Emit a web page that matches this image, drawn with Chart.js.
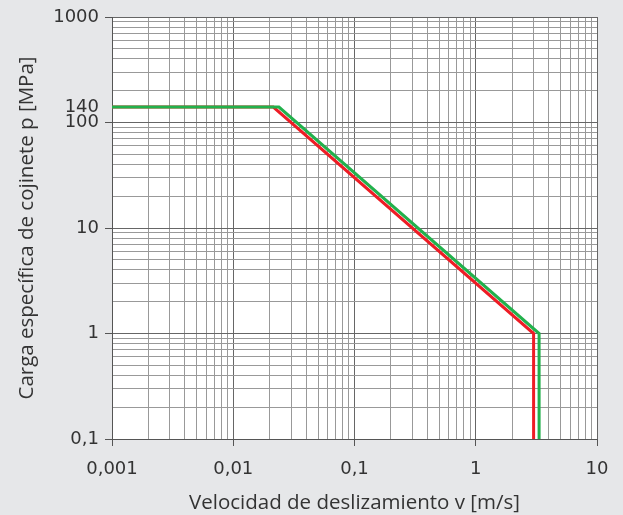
<!DOCTYPE html>
<html>
<head>
<meta charset="utf-8">
<script src="https://cdn.jsdelivr.net/npm/chart.js@4"></script>
<style>
  html, body { margin: 0; padding: 0; background: #e6e7e9; }
  #wrap { width: 623px; height: 515px; }
</style>
</head>
<body>
<div id="wrap"><canvas id="pvChart"></canvas></div>
<script>
// limit curves (v in m/s, p in MPa)
const redV = [0.001, 0.0214, 3.0, 3.0];
const redP = [140, 140, 1, 0.1];
const greenV = [0.001, 0.0238, 3.33, 3.33];
const greenP = [140, 140, 1, 0.1];

// tick labels
const xMajor = [0.001, 0.01, 0.1, 1, 10];
const xLabels = ['0,001', '0,01', '0,1', '1', '10'];
const yMajor = [0.1, 1, 10, 100, 1000];
const yLabels = ['0,1', '1', '10', '100', '1000'];
const yExtra = [140];
const yExtraLabels = ['140'];

function logGrid(majors) {
    const vals = [];
    for (let i = 0; i < majors.length - 1; i++) {
        for (let k = 1; k < 10; k++) vals.push(+(majors[i] * k).toPrecision(3));
    }
    vals.push(majors[majors.length - 1]);
    return vals;
}

function isMajor(list, v) {
    return list.some(m => Math.abs(m - v) / m < 1e-6);
}

function labelFor(values, labels, v) {
    const i = values.findIndex(m => Math.abs(m - v) / m < 1e-6);
    return i >= 0 ? labels[i] : '';
}

const bgPlugin = {
    id: 'bg',
    beforeDraw(chart) {
        const { ctx, chartArea: a } = chart;
        ctx.save();
        ctx.fillStyle = '#e6e7e9';
        ctx.fillRect(0, 0, chart.width, chart.height);
        ctx.fillStyle = '#ffffff';
        ctx.fillRect(a.left, a.top, a.right - a.left, a.bottom - a.top);
        ctx.restore();
    }
};

const tickFont = { family: "'DejaVu Sans', sans-serif", size: 18 };
const titleFont = { family: "'Open Sans', sans-serif", size: 20.5 };

new Chart(document.getElementById('pvChart'), {
    type: 'line',
    data: {
        datasets: [{
            label: 'verde',
            data: greenV.map((v, i) => ({ x: v, y: greenP[i] })),
            borderColor: '#22b14c',
            borderWidth: 3,
            pointRadius: 0,
            tension: 0
        }, {
            label: 'rojo',
            data: redV.map((v, i) => ({ x: v, y: redP[i] })),
            borderColor: '#ee1c25',
            borderWidth: 3,
            pointRadius: 0,
            tension: 0
        }]
    },
    options: {
        responsive: true,
        maintainAspectRatio: false,
        animation: false,
        layout: { padding: { left: 0, right: 26, top: 17, bottom: 0 } },
        plugins: { legend: { display: false }, tooltip: { enabled: false } },
        scales: {
            x: {
                type: 'logarithmic',
                min: 0.001,
                max: 10,
                afterBuildTicks: s => { s.ticks = logGrid(xMajor).map(v => ({ value: v })); },
                afterFit: s => { s.height = 76; },
                border: { color: '#555', width: 1 },
                grid: {
                    color: c => isMajor(xMajor, c.tick.value) ? '#666' : '#999',
                    tickColor: c => isMajor(xMajor, c.tick.value) ? '#555' : 'rgba(0,0,0,0)',
                    tickLength: 7
                },
                ticks: {
                    autoSkip: false,
                    maxRotation: 0,
                    padding: 13,
                    color: '#333',
                    font: tickFont,
                    callback: v => labelFor(xMajor, xLabels, v)
                },
                title: {
                    display: true,
                    text: 'Velocidad de deslizamiento v [m/s]',
                    color: '#333',
                    font: titleFont,
                    padding: { top: 0, bottom: 0 }
                }
            },
            y: {
                type: 'logarithmic',
                min: 0.1,
                max: 1000,
                afterBuildTicks: s => {
                    s.ticks = logGrid(yMajor).concat(yExtra).sort((a, b) => a - b).map(v => ({ value: v }));
                },
                afterFit: s => { s.width = 112; },
                border: { color: '#555', width: 1 },
                grid: {
                    color: c => isMajor(yExtra, c.tick.value) ? 'rgba(0,0,0,0)'
                        : isMajor(yMajor, c.tick.value) ? '#666' : '#999',
                    tickColor: c => isMajor(yMajor, c.tick.value) ? '#555' : 'rgba(0,0,0,0)',
                    tickLength: 7
                },
                ticks: {
                    autoSkip: false,
                    padding: 6,
                    color: '#333',
                    font: tickFont,
                    callback: v => labelFor(yMajor.concat(yExtra), yLabels.concat(yExtraLabels), v)
                },
                title: {
                    display: true,
                    text: 'Carga específica de cojinete p [MPa]',
                    color: '#333',
                    font: titleFont,
                    padding: { top: 15, bottom: 0 }
                }
            }
        }
    },
    plugins: [bgPlugin]
});
</script>
</body>
</html>
